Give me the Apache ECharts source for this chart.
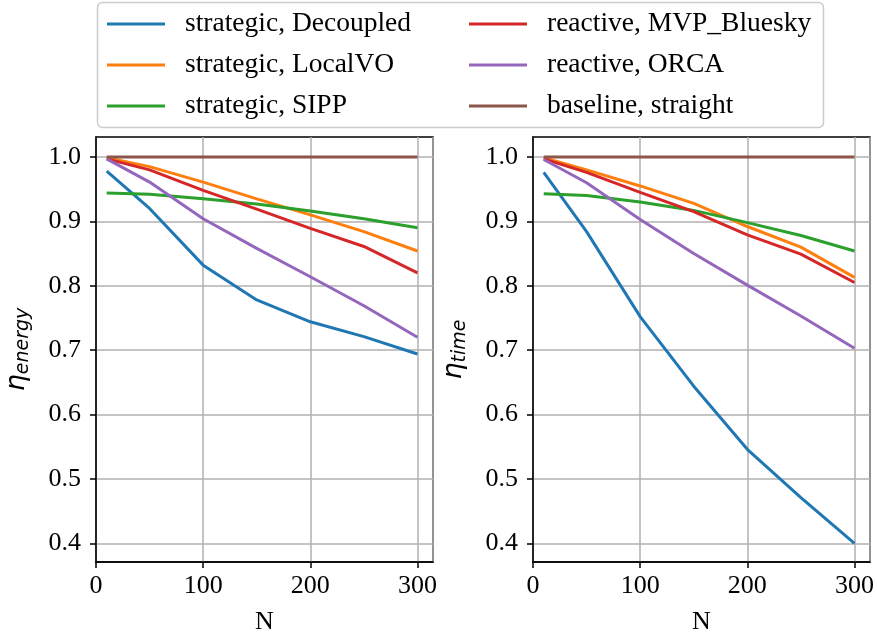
<!DOCTYPE html>
<html>
<head>
<meta charset="utf-8">
<script src="https://cdn.jsdelivr.net/npm/echarts@6/dist/echarts.min.js"></script>
<style>html,body{margin:0;padding:0;background:#fff}#main{width:877px;height:640px}</style>
</head>
<body>
<div id="main"></div>
<script>
var N = [10, 50, 100, 150, 200, 250, 300];
var names = ['strategic, Decoupled', 'strategic, LocalVO', 'strategic, SIPP',
             'reactive, MVP_Bluesky', 'reactive, ORCA', 'baseline, straight'];
var colors = ['#1f77b4', '#ff7f0e', '#2ca02c', '#d62728', '#9467bd', '#8c564b'];
var yTicks = [0.4, 0.5, 0.6, 0.7, 0.8, 0.9, 1.0];

// eta_energy
var energyDecoupled = [0.978, 0.920, 0.832, 0.778, 0.744, 0.721, 0.694];
var energyLocalVO   = [0.999, 0.985, 0.961, 0.935, 0.910, 0.884, 0.854];
var energySIPP      = [0.944, 0.942, 0.935, 0.927, 0.916, 0.904, 0.890];
var energyMVP       = [0.997, 0.980, 0.948, 0.919, 0.889, 0.861, 0.820];
var energyORCA      = [0.997, 0.961, 0.904, 0.858, 0.814, 0.769, 0.720];
var energyStraight  = [1.0, 1.0, 1.0, 1.0, 1.0, 1.0, 1.0];

// eta_time
var timeDecoupled = [0.976, 0.884, 0.752, 0.644, 0.546, 0.471, 0.400];
var timeLocalVO   = [0.999, 0.980, 0.955, 0.928, 0.892, 0.860, 0.813];
var timeSIPP      = [0.943, 0.940, 0.930, 0.917, 0.898, 0.878, 0.854];
var timeMVP       = [0.997, 0.976, 0.945, 0.915, 0.879, 0.849, 0.805];
var timeORCA      = [0.996, 0.960, 0.903, 0.850, 0.801, 0.753, 0.703];
var timeStraight  = [1.0, 1.0, 1.0, 1.0, 1.0, 1.0, 1.0];

var energy = [energyDecoupled, energyLocalVO, energySIPP, energyMVP, energyORCA, energyStraight];
var time = [timeDecoupled, timeLocalVO, timeSIPP, timeMVP, timeORCA, timeStraight];

var serif = '"Liberation Serif", "Times New Roman", serif';

function pairs(ys) {
    return N.map(function (n, i) { return [n, ys[i]]; });
}

function makeSeries(sets, idx) {
    return sets.map(function (ys, k) {
        return {
            name: names[k],
            type: 'line',
            xAxisIndex: idx,
            yAxisIndex: idx,
            data: pairs(ys),
            symbol: 'none',
            lineStyle: { width: 3, color: colors[k] },
            itemStyle: { color: colors[k] },
            z: 2 + k,
            animation: false
        };
    });
}

function xAxisOf(idx) {
    return {
        gridIndex: idx,
        type: 'value',
        min: 0,
        max: 314.5,
        interval: 100,
        name: 'N',
        nameLocation: 'middle',
        nameGap: 47,
        nameTextStyle: { fontFamily: serif, fontSize: 26, color: '#000' },
        axisLine: { onZero: false, lineStyle: { color: '#000', width: 1.5 } },
        axisTick: { show: true, length: 6, lineStyle: { color: '#000', width: 1.5 } },
        axisLabel: { fontFamily: serif, fontSize: 26, color: '#000', margin: 11,
                     showMaxLabel: false },
        splitLine: { show: true, lineStyle: { color: '#b0b0b0', width: 1.5 } }
    };
}

function yAxisOf(idx, sub) {
    return {
        gridIndex: idx,
        type: 'value',
        min: 0.371,
        max: 1.031,
        name: '{a|η}{b|' + sub + '}',
        nameLocation: 'middle',
        nameGap: 63,
        nameTextStyle: {
            rich: {
                a: { fontFamily: 'DejaVu Sans', fontStyle: 'italic', fontSize: 27, color: '#000' },
                b: { fontFamily: 'DejaVu Sans', fontStyle: 'italic', fontSize: 19, color: '#000',
                     padding: [14, 0, 0, 0] }
            }
        },
        axisLine: { onZero: false, lineStyle: { color: '#000', width: 1.5 } },
        axisTick: { show: true, length: 6, customValues: yTicks,
                    lineStyle: { color: '#000', width: 1.5 } },
        axisLabel: { fontFamily: serif, fontSize: 26, color: '#000', margin: 15,
                     customValues: yTicks,
                     formatter: function (v) { return v.toFixed(1); } },
        splitLine: { show: true, lineStyle: { color: '#b0b0b0', width: 1.5 } }
    };
}

function legendOf(left, data) {
    return {
        orient: 'vertical',
        left: left,
        top: 10,
        padding: 0,
        itemGap: 13,
        itemWidth: 58,
        itemHeight: 3,
        icon: 'rect',
        data: data,
        textStyle: { fontFamily: serif, fontSize: 27.5, color: '#000', lineHeight: 27,
                     padding: [0, 0, 0, 15] }
    };
}

var chart = echarts.init(document.getElementById('main'));
chart.setOption({
    backgroundColor: '#fff',
    animation: false,
    grid: [
        { left: 96, top: 137, width: 337, height: 426, show: true,
          borderColor: '#000', borderWidth: 1.5 },
        { left: 533, top: 137, width: 337, height: 426, show: true,
          borderColor: '#000', borderWidth: 1.5 }
    ],
    graphic: [{
        type: 'rect',
        shape: { x: 97.5, y: 2.5, width: 726, height: 125, r: 5 },
        style: { fill: 'rgba(255,255,255,0.8)', stroke: '#cccccc', lineWidth: 1.5 },
        z: 0
    }],
    legend: [
        legendOf(107, names.slice(0, 3)),
        legendOf(469, names.slice(3))
    ],
    xAxis: [xAxisOf(0), xAxisOf(1)],
    yAxis: [yAxisOf(0, 'energy'), yAxisOf(1, 'time')],
    series: makeSeries(energy, 0).concat(makeSeries(time, 1))
});
</script>
</body>
</html>
